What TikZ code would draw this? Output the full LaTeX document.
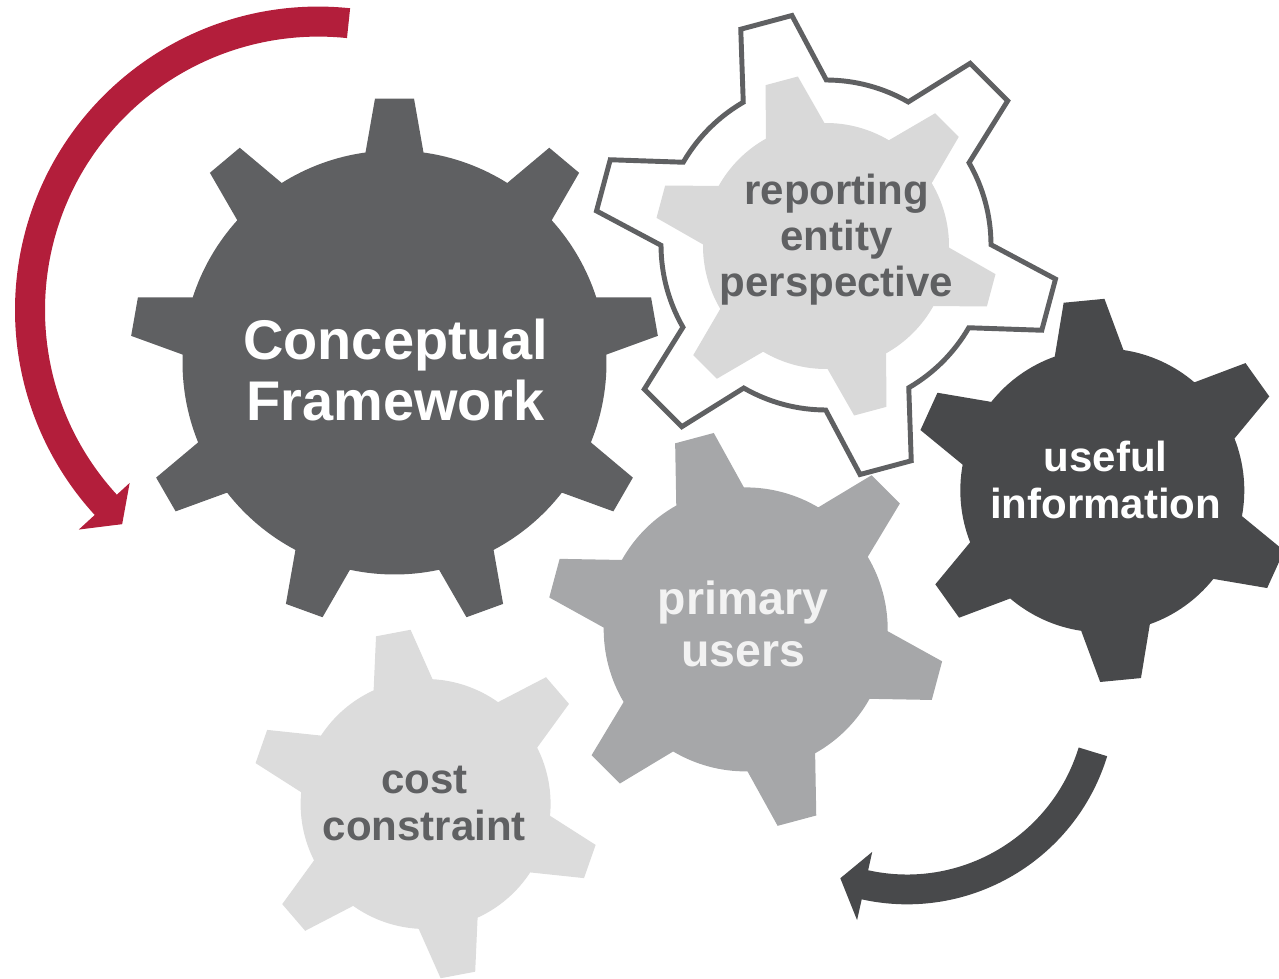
\documentclass[tikz,border=0pt]{standalone}
\usepackage{fontspec}
\setmainfont{Liberation Sans}

\definecolor{cfgray}{HTML}{5F6062}
\definecolor{infogray}{HTML}{48494B}
\definecolor{usergray}{HTML}{A6A7A9}
\definecolor{costgray}{HTML}{DCDCDC}
\definecolor{repgray}{HTML}{D9D9D9}
\definecolor{arrowred}{HTML}{B31E3B}

% style, x, y, teeth, first tooth angle, body r, tip r, base half width, tip half width
\newcommand{\gear}[9]{%
	\pgfmathsetmacro\gstep{360/#4}%
	\pgfmathsetmacro\gdb{asin(#8/#6)}%
	\pgfmathsetmacro\gdt{atan(#9/#7)}%
	\pgfmathsetmacro\grt{#7/cos(\gdt)}%
	\pgfmathtruncatemacro\glast{#4-1}%
	\path[#1,shift={(#2,#3)}] ({#5-\gdb}:#6)
		\foreach \i in {0,...,\glast}{
			-- ({#5+\i*\gstep-\gdt}:\grt) -- ({#5+\i*\gstep+\gdt}:\grt)
			-- ({#5+\i*\gstep+\gdb}:#6)
			arc[start angle={#5+\i*\gstep+\gdb}, end angle={#5+(\i+1)*\gstep-\gdb}, radius=#6]
		} -- cycle;%
}

\begin{document}
\begin{tikzpicture}[x=0.01cm,y=0.01cm]
	\tikzset{lbl/.style={align=center,inner sep=0pt}}
	\tikzset{big/.style={font=\bfseries\fontsize{15.9}{17.1}\selectfont}}
	\tikzset{mid/.style={font=\bfseries\fontsize{11.95}{13.2}\selectfont}}
	\useasboundingbox (0,0) rectangle (1279,978);

	% gears
	\gear{fill=cfgray}{394.5}{615.5}{9}{90}{212}{264}{29}{19.5}
	\gear{fill=white,draw=cfgray,line width=1.4pt,line join=miter}{826}{733}{6}{105}{165}{230.5}{43}{26.5}
	\gear{fill=repgray}{826}{732}{6}{105}{123}{171}{30.3}{16.7}
	\gear{fill=infogray}{1102.3}{487.6}{6}{95.5}{142}{190.5}{34.5}{20.5}
	\gear{fill=usergray}{745.7}{348.6}{6}{105}{142}{198}{35}{20}
	\gear{fill=costgray}{425.6}{174}{6}{100.7}{125}{174}{30}{17.6}

	% arrows
	\begin{scope}[shift={(318.4,668)}]
		\fill[arrowred] (84:303.4) arc[start angle=84, end angle=222.5, radius=303.4]
			-- (222.5:325) -- (227.5:290.5) -- (222.5:256) -- (222.5:273.4)
			arc[start angle=222.5, end angle=84, radius=273.4] -- cycle;
	\end{scope}
	\begin{scope}[shift={(907,283)}]
		\fill[infogray] (-17:209.3) arc[start angle=-17, end angle=-102.5, radius=209.3]
			-- (-102.5:230.6) -- (-110:195) -- (-102.5:160.7) -- (-102.5:179.5)
			arc[start angle=-102.5, end angle=-17, radius=179.5] -- cycle;
	\end{scope}

	% labels
	\node[lbl,big,text=white] (cf) at (395.5,608) {Conceptual\\Framework};
	\node[lbl,mid,text=cfgray] (rep) at (836.5,738.3) {reporting\\entity\\perspective};
	\node[lbl,mid,text=white] (useful) at (1105.7,498) {useful\\information};
	\node[lbl,text=black!5,font=\bfseries\fontsize{13.2}{14.7}\selectfont] (users) at (743,353.8) {primary\\users};
	\node[lbl,mid,text=cfgray] (cost) at (424.3,174.6) {cost\\constraint};
\end{tikzpicture}
\end{document}
